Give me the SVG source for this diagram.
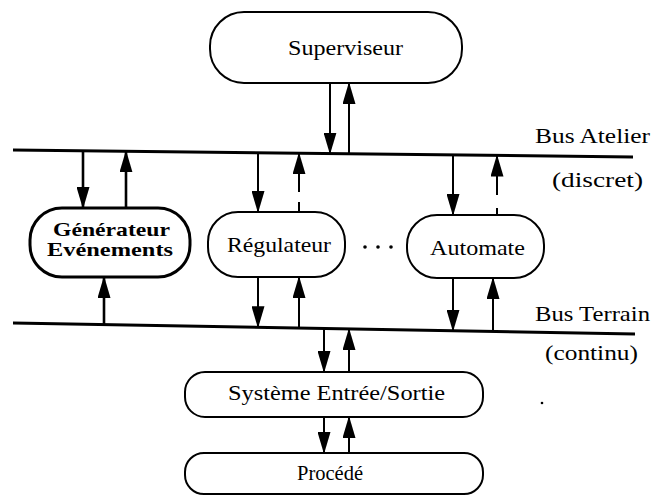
<svg xmlns="http://www.w3.org/2000/svg" width="652" height="496" viewBox="0 0 652 496">
<style>
.box{fill:#fff;stroke:#000;stroke-width:2}
.bold{stroke-width:3}
.t{font-family:"Liberation Serif","Times New Roman",serif;font-size:22px;fill:#000}
.tb{font-weight:bold;font-size:19px}
.bus{stroke:#000;stroke-width:3;fill:none}
.a{stroke:#000;stroke-width:2;fill:none;marker-end:url(#ah)}
.ab{stroke-width:2.6}
.s{stroke:#000;stroke-width:2;fill:none}
</style>
<defs>
<marker id="ah" markerUnits="userSpaceOnUse" markerWidth="22" markerHeight="13" refX="21" refY="6.5" orient="auto" viewBox="0 0 22 13">
<path d="M0,0 L22,6.5 L0,13 Z" fill="#000"/>
</marker>
</defs>
<g id="bus-atelier">
<line class="bus" x1="13" y1="150" x2="633" y2="157"/>
<text class="t" x="535" y="143" textLength="115" lengthAdjust="spacingAndGlyphs">Bus Atelier</text>
<text class="t" x="552" y="187" textLength="91" lengthAdjust="spacingAndGlyphs">(discret)</text>
</g>
<g id="bus-terrain">
<line class="bus" x1="13" y1="323" x2="635" y2="334"/>
<text class="t" x="535" y="321" textLength="115" lengthAdjust="spacingAndGlyphs">Bus Terrain</text>
<text class="t" x="545" y="360" textLength="93" lengthAdjust="spacingAndGlyphs">(continu)</text>
</g>
<g id="superviseur">
<rect class="box" x="210" y="12" width="252" height="71" rx="34"/>
<text class="t" x="288" y="55" textLength="115" lengthAdjust="spacingAndGlyphs">Superviseur</text>
</g>
<g id="generateur">
<rect class="box bold" x="30" y="208" width="160" height="69" rx="32"/>
<text class="t tb" x="53" y="236" textLength="117" lengthAdjust="spacingAndGlyphs">Générateur</text>
<text class="t tb" x="47" y="256" textLength="126" lengthAdjust="spacingAndGlyphs">Evénements</text>
</g>
<g id="regulateur">
<rect class="box" x="208" y="212" width="137" height="65" rx="30"/>
<text class="t" x="227" y="252" textLength="104" lengthAdjust="spacingAndGlyphs">Régulateur</text>
</g>
<g id="dots">
<circle cx="365" cy="247" r="1.8"/>
<circle cx="378" cy="247" r="1.8"/>
<circle cx="391" cy="247" r="1.8"/>
</g>
<g id="automate">
<rect class="box" x="407" y="215" width="137" height="63" rx="30"/>
<text class="t" x="430" y="255" textLength="95" lengthAdjust="spacingAndGlyphs">Automate</text>
</g>
<g id="systeme-es">
<rect class="box" x="185" y="372" width="298" height="45" rx="20"/>
<text class="t" x="228" y="400" textLength="217" lengthAdjust="spacingAndGlyphs">Système Entrée/Sortie</text>
</g>
<g id="procede">
<rect class="box" x="185" y="453" width="298" height="41" rx="19"/>
<text class="t" x="297" y="480" textLength="66" lengthAdjust="spacingAndGlyphs">Procédé</text>
</g>
<circle cx="542" cy="403" r="1.3"/>
<g id="connectors">
<line class="a" x1="330" y1="83" x2="330" y2="153.6"/>
<line class="a" x1="349" y1="153.8" x2="349" y2="83"/>
<line class="a ab" x1="83" y1="150.8" x2="83" y2="208"/>
<line class="a ab" x1="126" y1="208" x2="126" y2="151.3"/>
<line class="a ab" x1="104" y1="324.6" x2="104" y2="277"/>
<line class="a" x1="258" y1="152.8" x2="258" y2="212"/>
<line class="s" x1="299" y1="212" x2="299" y2="202"/>
<line class="a" x1="299" y1="192" x2="299" y2="153.2"/>
<line class="a" x1="258" y1="277" x2="258" y2="327.3"/>
<line class="a" x1="299" y1="328" x2="299" y2="277"/>
<line class="a" x1="453" y1="155" x2="453" y2="215"/>
<line class="s" x1="497" y1="215" x2="497" y2="208"/>
<line class="a" x1="497" y1="195" x2="497" y2="155.5"/>
<line class="a" x1="453" y1="278" x2="453" y2="330.8"/>
<line class="a" x1="493" y1="331.5" x2="493" y2="278"/>
<line class="a" x1="324" y1="328.5" x2="324" y2="372"/>
<line class="a" x1="349" y1="372" x2="349" y2="329"/>
<line class="a" x1="324" y1="417" x2="324" y2="453"/>
<line class="a" x1="349" y1="453" x2="349" y2="417"/>
</g>
</svg>
